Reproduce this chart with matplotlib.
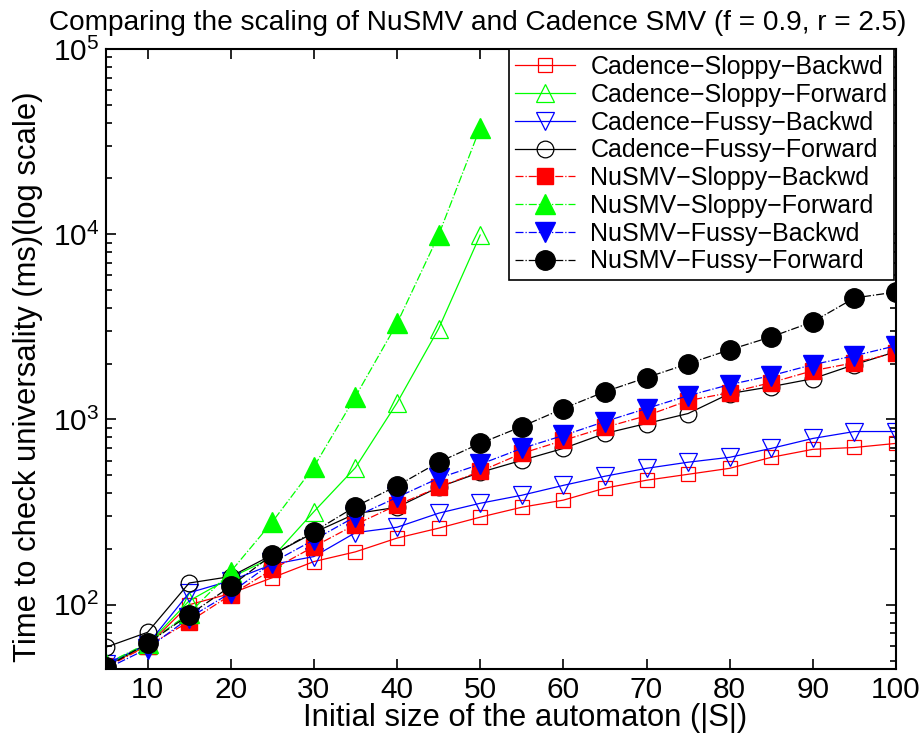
import matplotlib
matplotlib.use("Agg")
import matplotlib.pyplot as plt
from matplotlib.ticker import LogLocator, NullFormatter

plt.rcParams['font.family'] = ['Liberation Sans', 'DejaVu Sans']

# Initial automaton sizes
sizes = [5, 10, 15, 20, 25, 30, 35, 40, 45, 50, 55, 60, 65, 70, 75, 80, 85, 90, 95, 100]

# Times (ms)
cad_sloppy_back = [47, 60, 100, 115, 140, 171, 193, 229, 259, 297, 336, 367, 426, 470, 506, 545, 625, 690, 706, 743]
cad_sloppy_fwd = [47, 61, 105, 140, 180, 318, 550, 1230, 3090, 9900]
cad_fussy_back = [48, 61, 116, 135, 165, 182, 245, 262, 312, 353, 390, 441, 494, 545, 588, 625, 698, 790, 861, 861]
cad_fussy_fwd = [59, 71, 131, 142, 186, 245, 310, 336, 431, 518, 602, 698, 841, 951, 1077, 1380, 1504, 1660, 1977, 2323]
nu_sloppy_back = [46, 60, 81, 113, 155, 206, 271, 345, 431, 525, 656, 771, 906, 1048, 1264, 1396, 1582, 1834, 2025, 2293]
nu_sloppy_fwd = [48, 62, 90, 151, 280, 555, 1330, 3300, 9900, 37600]
nu_fussy_back = [45, 58, 85, 116, 169, 224, 299, 380, 482, 573, 698, 820, 975, 1146, 1345, 1542, 1725, 1977, 2208, 2500]
nu_fussy_fwd = [46, 62, 88, 126, 186, 248, 339, 438, 588, 743, 916, 1146, 1413, 1683, 2000, 2378, 2793, 3367, 4529, 4875]

fig = plt.figure(figsize=(9.2, 7.42), dpi=100)
ax = fig.add_axes([0.1152, 0.0984, 0.8587, 0.8356])

lw = 0.9
ax.plot(sizes, cad_sloppy_back, '-', color='red', lw=lw, marker='s', ms=9.5, mfc='none', mew=0.9,
        label='Cadence\u2212Sloppy\u2212Backwd')
ax.plot(sizes[:len(cad_sloppy_fwd)], cad_sloppy_fwd, '-', color='#00ff00', lw=lw, marker='^', ms=13, mfc='none', mew=0.9,
        label='Cadence\u2212Sloppy\u2212Forward')
ax.plot(sizes, cad_fussy_back, '-', color='blue', lw=lw, marker='v', ms=13, mfc='none', mew=0.9,
        label='Cadence\u2212Fussy\u2212Backwd')
ax.plot(sizes, cad_fussy_fwd, '-', color='black', lw=lw, marker='o', ms=12, mfc='none', mew=0.9,
        label='Cadence\u2212Fussy\u2212Forward')
ax.plot(sizes, nu_sloppy_back, '-.', color='red', lw=lw, marker='s', ms=11, mfc='red', mec='red',
        label='NuSMV\u2212Sloppy\u2212Backwd')
ax.plot(sizes[:len(nu_sloppy_fwd)], nu_sloppy_fwd, '-.', color='#00ff00', lw=lw, marker='^', ms=15, mfc='#00ff00', mec='#00ff00',
        label='NuSMV\u2212Sloppy\u2212Forward')
ax.plot(sizes, nu_fussy_back, '-.', color='blue', lw=lw, marker='v', ms=15, mfc='blue', mec='blue',
        label='NuSMV\u2212Fussy\u2212Backwd')
ax.plot(sizes, nu_fussy_fwd, '-.', color='black', lw=lw, marker='o', ms=14, mfc='black', mec='black',
        label='NuSMV\u2212Fussy\u2212Forward')

ax.set_yscale('log')
ax.set_xlim(5, 100)
ax.set_ylim(45, 1e5)
ax.set_xticks(range(10, 101, 10))
ax.yaxis.set_major_locator(LogLocator(base=10, numticks=10))
ax.yaxis.set_minor_locator(LogLocator(base=10, subs=range(2, 10), numticks=20))
ax.yaxis.set_minor_formatter(NullFormatter())
ax.tick_params(which='both', direction='in', top=True, right=True, labelsize=21.5, width=1.2)
ax.tick_params(which='major', length=7, pad=5)
ax.tick_params(which='minor', length=4)
for sp in ax.spines.values():
    sp.set_linewidth(1.5)

ax.set_xlabel('Initial size of the automaton (|S|)', fontsize=22.3, va='center')
ax.xaxis.set_label_coords(0.530, -0.079)
ax.set_ylabel('Time to check universality (ms)(log scale)', fontsize=22.3, va='center')
ax.yaxis.set_label_coords(-0.099, 0.471)
ax.set_title('Comparing the scaling of NuSMV and Cadence SMV (f = 0.9, r = 2.5)', fontsize=20.2,
             x=0.47, y=1.0, pad=14)

leg = ax.legend(loc='upper right', bbox_to_anchor=(0.997, 1.0), borderaxespad=0.0, fontsize=18,
                fancybox=False, edgecolor='black', framealpha=1, handlelength=2.4, labelspacing=0.15,
                borderpad=0.25, handletextpad=0.6)
leg.get_frame().set_linewidth(1.2)

fig.savefig('out.png', dpi=100)
